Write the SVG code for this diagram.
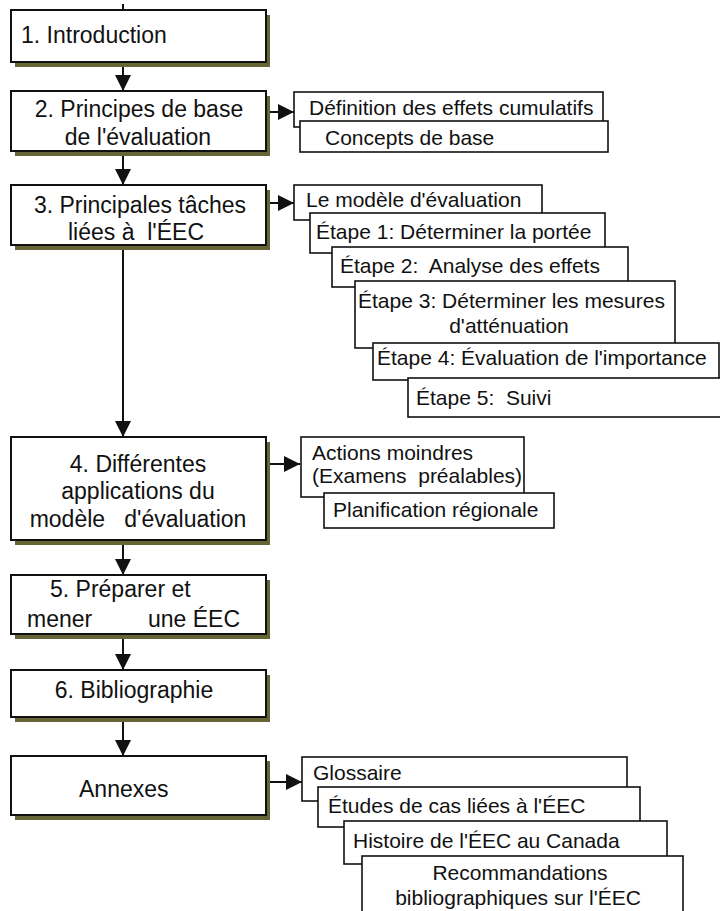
<svg xmlns="http://www.w3.org/2000/svg" width="720" height="911" viewBox="0 0 720 911">
<style>
.shadow{fill:#656536}
.main{fill:#fff;stroke:#111;stroke-width:2}
.sub{fill:#fff;stroke:#111;stroke-width:1.6}
.mt{font-family:"Liberation Sans",Arial,sans-serif;font-size:23px;fill:#111;white-space:pre}
.st{font-family:"Liberation Sans",Arial,sans-serif;font-size:21px;fill:#111;white-space:pre}
.c{text-anchor:middle}
.ln{stroke:#111;stroke-width:2;fill:none}
</style>
<defs>
<marker id="ah" markerUnits="userSpaceOnUse" markerWidth="18" markerHeight="18" viewBox="0 0 18 18" refX="17" refY="9" orient="auto">
<path d="M1,1 L17,9 L1,17 Z" fill="#111"/>
</marker>
</defs>
<g id="connectors">
<line class="ln" x1="123" y1="4" x2="123" y2="10"/>
<line class="ln" x1="123" y1="62" x2="123" y2="91" marker-end="url(#ah)"/>
<line class="ln" x1="123" y1="151" x2="123" y2="185" marker-end="url(#ah)"/>
<line class="ln" x1="123" y1="245" x2="123" y2="437" marker-end="url(#ah)"/>
<line class="ln" x1="123" y1="540" x2="123" y2="575" marker-end="url(#ah)"/>
<line class="ln" x1="123" y1="634" x2="123" y2="670" marker-end="url(#ah)"/>
<line class="ln" x1="123" y1="717" x2="123" y2="756" marker-end="url(#ah)"/>
<line class="ln" x1="268" y1="112" x2="294" y2="112" marker-end="url(#ah)"/>
<line class="ln" x1="268" y1="203" x2="294" y2="203" marker-end="url(#ah)"/>
<line class="ln" x1="268" y1="464" x2="300" y2="464" marker-end="url(#ah)"/>
<line class="ln" x1="268" y1="782" x2="302" y2="782" marker-end="url(#ah)"/>
</g>
<g id="n1">
<rect class="shadow" x="15" y="15" width="255" height="52"/>
<rect class="main" x="11" y="10" width="255" height="52"/>
<text class="mt" x="21" y="43">1. Introduction</text>
</g>
<g id="n2">
<rect class="shadow" x="15" y="96" width="255" height="60"/>
<rect class="main" x="11" y="91" width="255" height="60"/>
<text class="mt c" x="139" y="117">2. Principes de base</text>
<text class="mt c" x="138" y="145">de l'évaluation</text>
</g>
<g id="n3">
<rect class="shadow" x="15" y="190" width="255" height="60"/>
<rect class="main" x="11" y="185" width="255" height="60"/>
<text class="mt c" x="140" y="213">3. Principales tâches</text>
<text class="mt" x="68" y="240">liées à  l'ÉEC</text>
</g>
<g id="n4">
<rect class="shadow" x="15" y="442" width="255" height="103"/>
<rect class="main" x="11" y="437" width="255" height="103"/>
<text class="mt c" x="138" y="472">4. Différentes</text>
<text class="mt c" x="138" y="499">applications du</text>
<text class="mt c" x="138" y="527">modèle   d'évaluation</text>
</g>
<g id="n5">
<rect class="shadow" x="15" y="580" width="255" height="59"/>
<rect class="main" x="11" y="575" width="255" height="59"/>
<text class="mt" x="50" y="597">5. Préparer et</text>
<text class="mt" y="627"><tspan x="27">mener</tspan><tspan x="148">une ÉEC</tspan></text>
</g>
<g id="n6">
<rect class="shadow" x="15" y="675" width="255" height="47"/>
<rect class="main" x="11" y="670" width="255" height="47"/>
<text class="mt c" x="134" y="698">6. Bibliographie</text>
</g>
<g id="n7">
<rect class="shadow" x="15" y="761" width="255" height="59"/>
<rect class="main" x="11" y="756" width="255" height="59"/>
<text class="mt" x="79" y="797">Annexes</text>
</g>
<g id="s2a">
<rect class="sub" x="294" y="92" width="309" height="35"/>
<text class="st" x="309" y="115">Définition des effets cumulatifs</text>
</g>
<g id="s2b">
<rect class="sub" x="300" y="121" width="308" height="31"/>
<text class="st" x="325" y="145">Concepts de base</text>
</g>
<g id="s3a">
<rect class="sub" x="294" y="185" width="248" height="35"/>
<text class="st" x="306" y="207">Le modèle d'évaluation</text>
</g>
<g id="s3b">
<rect class="sub" x="310" y="213" width="295" height="40"/>
<text class="st" x="316" y="239">Étape 1: Déterminer la portée</text>
</g>
<g id="s3c">
<rect class="sub" x="332" y="247" width="296" height="40"/>
<text class="st" x="340" y="273">Étape 2:  Analyse des effets</text>
</g>
<g id="s3d">
<rect class="sub" x="355" y="281" width="320" height="67"/>
<text class="st" x="358" y="308">Étape 3: Déterminer les mesures</text>
<text class="st c" x="509" y="333">d'atténuation</text>
</g>
<g id="s3e">
<rect class="sub" x="373" y="343" width="346" height="37"/>
<text class="st" x="377" y="365">Étape 4: Évaluation de l'importance</text>
</g>
<g id="s3f">
<rect class="sub" x="408" y="378" width="330" height="39"/>
<text class="st" x="416" y="405">Étape 5:  Suivi</text>
</g>
<g id="s4a">
<rect class="sub" x="301" y="437" width="223" height="60"/>
<text class="st" x="312" y="460">Actions moindres</text>
<text class="st" x="312" y="483">(Examens  préalables)</text>
</g>
<g id="s4b">
<rect class="sub" x="324" y="493" width="230" height="35"/>
<text class="st" x="333" y="517">Planification régionale</text>
</g>
<g id="s7a">
<rect class="sub" x="302" y="757" width="325" height="44"/>
<text class="st" x="313" y="780">Glossaire</text>
</g>
<g id="s7b">
<rect class="sub" x="318" y="787" width="322" height="40"/>
<text class="st" x="328" y="813">Études de cas liées à l'ÉEC</text>
</g>
<g id="s7c">
<rect class="sub" x="344" y="821" width="323" height="43"/>
<text class="st" x="353" y="848">Histoire de l'ÉEC au Canada</text>
</g>
<g id="s7d">
<rect class="sub" x="362" y="856" width="321" height="70"/>
<text class="st c" x="520" y="880">Recommandations</text>
<text class="st c" x="518" y="905">bibliographiques sur l'ÉEC</text>
</g>
</svg>
